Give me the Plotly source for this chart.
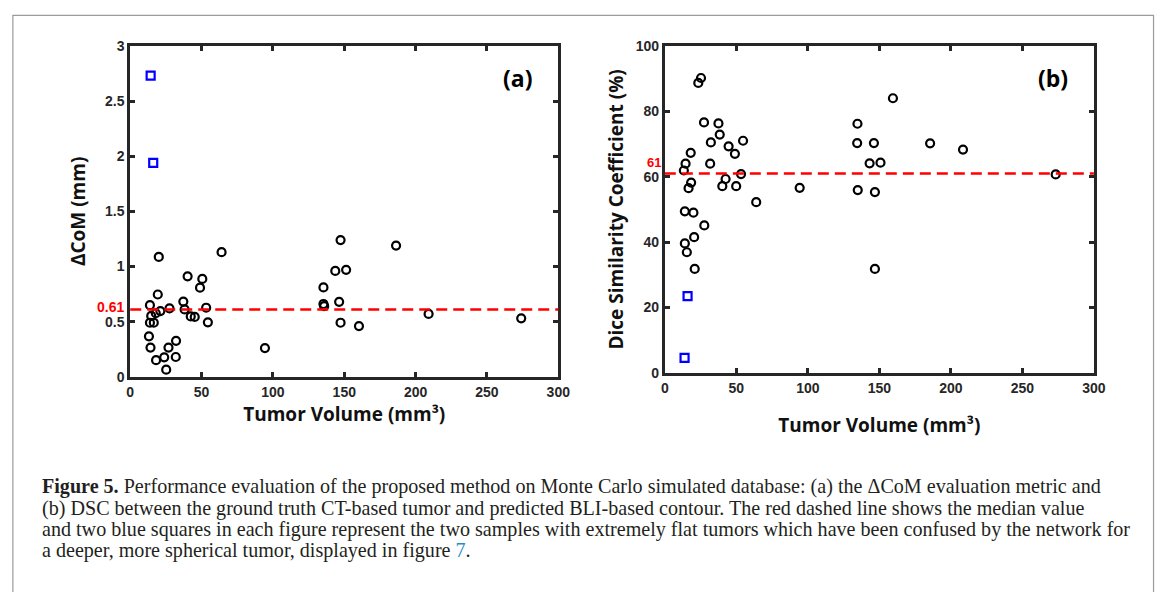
import plotly.graph_objects as go

# ---------------- data ----------------
# Panel (a): ΔCoM vs tumor volume
vol_a = [20.0, 64.0, 40.2, 50.5, 48.9, 19.3, 37.2, 13.8, 27.5, 21.1, 38.1, 53.2,
         17.9, 14.7, 42.4, 45.2, 54.4, 13.8, 16.5, 13.1, 14.2, 32.1, 26.8, 31.9,
         23.8, 18.1, 25.2, 94.4, 135.4, 135.4, 135.9, 143.7, 151.3, 147.4, 146.4,
         147.4, 160.3, 186.3, 209.1, 274.0]
com_a = [1.087, 1.13, 0.911, 0.887, 0.808, 0.746, 0.682, 0.649, 0.62, 0.596, 0.611, 0.626,
         0.576, 0.552, 0.547, 0.543, 0.494, 0.49, 0.49, 0.367, 0.265, 0.326, 0.265, 0.179,
         0.176, 0.15, 0.064, 0.26, 0.81, 0.66, 0.64, 0.96, 0.97, 1.24, 0.68,
         0.49, 0.46, 1.19, 0.57, 0.53]
flat_vol_a = [14.3, 16.1]
flat_com_a = [2.73, 1.94]
median_a = 0.61

# Panel (b): DSC vs tumor volume
vol_b = [25.3, 23.4, 27.4, 37.5, 38.4, 32.2, 44.6, 49.0, 54.7, 18.1, 31.7, 14.5,
         13.3, 53.3, 42.5, 40.2, 49.9, 18.4, 16.6, 63.9, 14.0, 20.0, 27.6, 20.5,
         14.0, 15.4, 20.9, 94.3, 134.7, 134.5, 134.9, 143.2, 150.8, 146.2, 146.9,
         146.9, 159.5, 185.5, 208.5, 273.3]
dsc_b = [90.2, 88.7, 76.6, 76.3, 72.9, 70.5, 69.3, 67.0, 71.0, 67.3, 64.0, 64.0,
         61.9, 60.8, 59.3, 57.1, 57.1, 58.2, 56.5, 52.2, 49.4, 49.0, 45.1, 41.5,
         39.6, 36.9, 31.8, 56.6, 76.2, 70.3, 55.9, 64.1, 64.3, 70.3, 55.3,
         31.8, 84.0, 70.2, 68.3, 60.7]
flat_vol_b = [15.9, 13.8]
flat_dsc_b = [23.5, 4.6]
median_b = 61

x_ticks = [0, 50, 100, 150, 200, 250, 300]
y_ticks_a = [0, 0.5, 1, 1.5, 2, 2.5, 3]
y_ticks_b = [0, 20, 40, 60, 80, 100]

caption_lines = [
    "<b>Figure 5.</b> Performance evaluation of the proposed method on Monte Carlo simulated database: (a) the ΔCoM evaluation metric and",
    "(b) DSC between the ground truth CT-based tumor and predicted BLI-based contour. The red dashed line shows the median value",
    "and two blue squares in each figure represent the two samples with extremely flat tumors which have been confused by the network for",
    "a deeper, more spherical tumor, displayed in figure <span style='color:#2a8ac6'>7</span>.",
]

# ---------------- styling ----------------
# Layout is expressed as fractions of a 1168x592 page; the figure fills the window.
W, H = 1168, 592
AX_COL = "#262626"
TICK_FONT = dict(family="Liberation Sans, Arial", size=14, color=AX_COL, weight="bold")
TITLE_FONT = dict(family="Open Sans", size=19, color="#111111", weight="bold")


def px_x(p):
    return p / W


def px_y(p):
    return 1 - p / H


fig = go.Figure()

circle = dict(symbol="circle-open", size=8, color="black", line=dict(width=2.2, color="black"))
square = dict(symbol="square-open", size=8, color="#0000ff", line=dict(width=2.2, color="#0000ff"))

fig.add_trace(go.Scatter(x=vol_a, y=com_a, mode="markers", marker=circle, xaxis="x", yaxis="y", showlegend=False))
fig.add_trace(go.Scatter(x=flat_vol_a, y=flat_com_a, mode="markers", marker=square, xaxis="x", yaxis="y", showlegend=False))
fig.add_trace(go.Scatter(x=vol_b, y=dsc_b, mode="markers", marker=circle, xaxis="x2", yaxis="y2", showlegend=False))
fig.add_trace(go.Scatter(x=flat_vol_b, y=flat_dsc_b, mode="markers", marker=square, xaxis="x2", yaxis="y2", showlegend=False))

axis_common = dict(
    showline=True, linewidth=3, linecolor=AX_COL, mirror="ticks",
    ticks="inside", ticklen=5, tickwidth=2.5, tickcolor=AX_COL,
    showgrid=False, zeroline=False, tickfont=TICK_FONT,
)

# panel boxes in page pixels
ax_a = dict(l=128, r=562, t=39, b=379)
ax_b = dict(l=670, r=1105, t=39, b=375)

fig.update_layout(
    autosize=True,
    margin=dict(l=0, r=0, t=0, b=0),
    paper_bgcolor="white", plot_bgcolor="white",
    xaxis=dict(domain=[px_x(ax_a["l"]), px_x(ax_a["r"])], range=[0, 300], tickvals=x_ticks,
               anchor="y", title=dict(text="Tumor Volume (mm³)", font=TITLE_FONT, standoff=10),
               **axis_common),
    yaxis=dict(domain=[px_y(ax_a["b"]), px_y(ax_a["t"])], range=[0, 3], tickvals=y_ticks_a,
               anchor="x", title=dict(text="ΔCoM (mm)", font=TITLE_FONT, standoff=15),
               **axis_common),
    xaxis2=dict(domain=[px_x(ax_b["l"]), px_x(ax_b["r"])], range=[0, 300], tickvals=x_ticks,
                anchor="y2", title=dict(text="Tumor Volume (mm³)", font=TITLE_FONT, standoff=25),
                **axis_common),
    yaxis2=dict(domain=[px_y(ax_b["b"]), px_y(ax_b["t"])], range=[0, 100], tickvals=y_ticks_b,
                anchor="x2", title=dict(text="Dice Similarity Coefficient (%)", font=TITLE_FONT, standoff=7),
                **axis_common),
)

# median dashed lines
for xr, yr, med in [("x", "y", median_a), ("x2", "y2", median_b)]:
    fig.add_shape(type="line", xref=f"{xr} domain", yref=yr, x0=0, x1=1, y0=med, y1=med,
                  line=dict(color="#ff0000", width=2.5, dash="11px,6px"), layer="above")

# median labels
for xr, yr, med, txt, xs, ys, fs in [("x", "y", median_a, f"{median_a:g}", -4, 2, 14),
                                     ("x2", "y2", median_b, f"{median_b:g}", -2, 11, 13)]:
    fig.add_annotation(xref=f"{xr} domain", yref=yr, x=0, y=med, text=txt, showarrow=False,
                       xanchor="right", yanchor="middle", xshift=xs, yshift=ys,
                       font=dict(family="Liberation Sans, Arial", size=fs, color="#ff0000", weight="bold"))

# panel letters
for xr, yr, lab in [("x", "y", "(a)"), ("x2", "y2", "(b)")]:
    fig.add_annotation(xref=f"{xr} domain", yref=f"{yr} domain", x=0.905, y=0.903, text=lab,
                       showarrow=False, xanchor="center", yanchor="middle",
                       font=dict(family="Open Sans", size=23, color="black", weight="bold"))

# caption
cap_y = [492, 514, 536, 558]
for line, yy in zip(caption_lines, cap_y):
    fig.add_annotation(xref="paper", yref="paper", x=px_x(37), y=px_y(yy), text=line,
                       showarrow=False, xanchor="left", yanchor="middle", align="left",
                       font=dict(family="Liberation Serif", size=20.1, color="#231f20"))

# outer frame (gray page border)
fig.add_shape(type="rect", xref="paper", yref="paper", x0=px_x(9), x1=px_x(1165.5),
              y0=-0.02, y1=px_y(7.5), line=dict(color="#9a9a9a", width=1.2), layer="below")

fit_script = (
    "var h=document.documentElement;h.style.height='100%';h.style.overflow='hidden';"
    "document.body.style.margin='0';document.body.style.height='100%';"
    "var gd=document.getElementById('{plot_id}');gd.style.width='100vw';gd.style.height='100vh';"
    "Plotly.Plots.resize(gd);"
)

fig.write_html(
    "out.html",
    default_width="100%",
    default_height="100%",
    config={"displayModeBar": False, "responsive": True},
    post_script=fit_script,
)
